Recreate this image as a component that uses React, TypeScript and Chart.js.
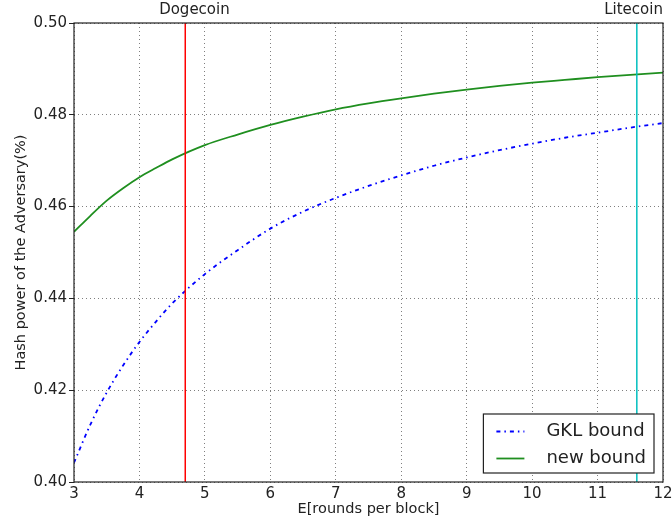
import React, { useEffect, useRef } from "react";
import { Chart, registerables } from "chart.js";

Chart.register(...registerables);

// ---- data ----
const xValues = [3, 3.25, 3.5, 3.75, 4, 4.25, 4.5, 5, 5.5, 6, 6.5, 7, 7.5, 8, 8.5, 9, 9.5, 10, 10.5, 11, 11.5, 12];
const gklBound = [0.4042, 0.4125, 0.4195, 0.4254, 0.4305, 0.4349, 0.4389, 0.4453, 0.4505, 0.4552, 0.4589, 0.4619, 0.4645, 0.4668, 0.4689, 0.4707, 0.4723, 0.4737, 0.475, 0.4761, 0.4772, 0.4782];
const newBound = [0.4545, 0.458, 0.4613, 0.464, 0.4664, 0.4684, 0.4703, 0.4734, 0.4757, 0.4778, 0.4796, 0.4812, 0.4825, 0.4836, 0.4846, 0.4855, 0.4863, 0.487, 0.4876, 0.4882, 0.4887, 0.4892];
const seriesLabels = ["GKL bound", "new bound"];
const seriesColors = ["#0000ff", "#1f8f1f"];

const markerNames = ["Dogecoin", "Litecoin"];
const markerX = [4.7, 11.6];
const markerLabelX = [4.84, 11.55];
const markerColors = ["#ff0000", "#00bfbf"];

const xMin = 3;
const xMax = 12;
const yMin = 0.4;
const yMax = 0.5;
const yStep = 0.02;
const xTitle = "E[rounds per block]";
const yTitle = "Hash power of the Adversary(%)";

const FONT = "'DejaVu Sans', sans-serif";
const TEXT = "#222222";

const decorPlugin = {
  id: "decor",
  afterDatasetsDraw(chart: any) {
    const { ctx, chartArea } = chart;
    ctx.save();
    // frame
    ctx.strokeStyle = "#222";
    ctx.lineWidth = 1.2;
    ctx.setLineDash([]);
    ctx.strokeRect(chartArea.left, chartArea.top, chartArea.right - chartArea.left, chartArea.bottom - chartArea.top);

    // legend
    const items = chart.data.datasets.filter((d: any) => d.inLegend);
    ctx.font = `18px ${FONT}`;
    const maxW = Math.max(...items.map((d: any) => ctx.measureText(d.label).width));
    const padL = 13, sample = 28, gap = 22, padR = 8, rowH = 27, padV = 2;
    const boxW = padL + sample + gap + maxW + padR;
    const boxH = padV * 2 + rowH * items.length + 1;
    const right = chartArea.right - 9;
    const bottom = chartArea.bottom - 9;
    const left = right - boxW;
    const top = bottom - boxH;
    ctx.fillStyle = "#ffffff";
    ctx.fillRect(left, top, boxW, boxH);
    ctx.strokeStyle = "#222";
    ctx.lineWidth = 1.2;
    ctx.strokeRect(left, top, boxW, boxH);
    items.forEach((d: any, i: number) => {
      const cy = top + padV + rowH * i + rowH / 2 + 2;
      ctx.strokeStyle = d.borderColor;
      ctx.lineWidth = d.borderWidth;
      ctx.setLineDash(d.borderDash || []);
      ctx.beginPath();
      ctx.moveTo(left + padL, cy);
      ctx.lineTo(left + padL + sample, cy);
      ctx.stroke();
      ctx.setLineDash([]);
      ctx.fillStyle = TEXT;
      ctx.textAlign = "left";
      ctx.textBaseline = "middle";
      ctx.fillText(d.label, left + padL + sample + gap, cy);
    });
    ctx.restore();
  },
  afterDraw(chart: any) {
    const { ctx, scales } = chart;
    ctx.save();
    ctx.font = `15px ${FONT}`;
    ctx.fillStyle = TEXT;
    ctx.textAlign = "center";
    ctx.textBaseline = "middle";
    markerNames.forEach((name, i) => {
      ctx.fillText(name, scales.x.getPixelForValue(markerLabelX[i]), 10);
    });
    ctx.restore();
  },
};

export default function App() {
  const canvasRef = useRef<HTMLCanvasElement | null>(null);

  useEffect(() => {
    if (!canvasRef.current) return;
    const datasets: any[] = [
      {
        label: seriesLabels[0],
        inLegend: true,
        data: xValues.map((x, i) => ({ x, y: gklBound[i] })),
        borderColor: seriesColors[0],
        borderWidth: 1.8,
        borderDash: [4, 4, 1.5, 4],
        pointRadius: 0,
        cubicInterpolationMode: "monotone",
        fill: false,
        order: 2,
      },
      {
        label: seriesLabels[1],
        inLegend: true,
        data: xValues.map((x, i) => ({ x, y: newBound[i] })),
        borderColor: seriesColors[1],
        borderWidth: 1.8,
        pointRadius: 0,
        cubicInterpolationMode: "monotone",
        fill: false,
        order: 1,
      },
      ...markerNames.map((name, i) => ({
        label: name,
        inLegend: false,
        data: [
          { x: markerX[i], y: yMin },
          { x: markerX[i], y: yMax },
        ],
        borderColor: markerColors[i],
        borderWidth: 1.5,
        pointRadius: 0,
        fill: false,
        order: 0,
      })),
    ];

    const chart = new Chart(canvasRef.current, {
      type: "line",
      data: { datasets },
      options: {
        animation: false,
        responsive: false,
        maintainAspectRatio: false,
        layout: { padding: { left: 0, right: 9, top: 23, bottom: 0 } },
        plugins: {
          legend: { display: false },
          tooltip: { enabled: false },
        },
        scales: {
          x: {
            type: "linear",
            min: xMin,
            max: xMax,
            afterFit: (s: any) => {
              s.height = 43;
              s.paddingLeft = 0;
              s.paddingRight = 0;
            },
            ticks: {
              stepSize: 1,
              color: TEXT,
              font: { family: FONT, size: 15 },
              padding: 3,
              maxRotation: 0,
            },
            grid: {
              color: "rgba(0,0,0,0.5)",
              lineWidth: 1,
              drawTicks: false,
            },
            border: { display: false, dash: [1, 3] },
            title: {
              display: true,
              text: xTitle,
              color: TEXT,
              font: { family: FONT, size: 14.5 },
              padding: { top: 0, bottom: 7 },
            },
          },
          y: {
            type: "linear",
            min: yMin,
            max: yMax,
            afterFit: (s: any) => {
              s.width = 74;
              s.paddingTop = 0;
              s.paddingBottom = 0;
            },
            ticks: {
              stepSize: yStep,
              color: TEXT,
              font: { family: FONT, size: 15 },
              padding: 2,
              callback: (v: any) => Number(v).toFixed(2),
            },
            grid: {
              color: "rgba(0,0,0,0.5)",
              lineWidth: 1,
              drawTicks: true,
              tickLength: 5,
              tickColor: "#222",
              tickBorderDash: [10, 0],
            },
            border: { display: false, dash: [1, 3] },
            title: {
              display: true,
              text: yTitle,
              color: TEXT,
              font: { family: FONT, size: 14.5 },
              padding: { top: 13, bottom: 0 },
            },
          },
        },
      } as any,
      plugins: [decorPlugin],
    });
    return () => chart.destroy();
  }, []);

  return (
    <div style={{ position: "absolute", left: 0, top: 0, width: 672, height: 525, background: "#fff" }}>
      <canvas ref={canvasRef} width={672} height={525} style={{ display: "block" }} />
    </div>
  );
}
